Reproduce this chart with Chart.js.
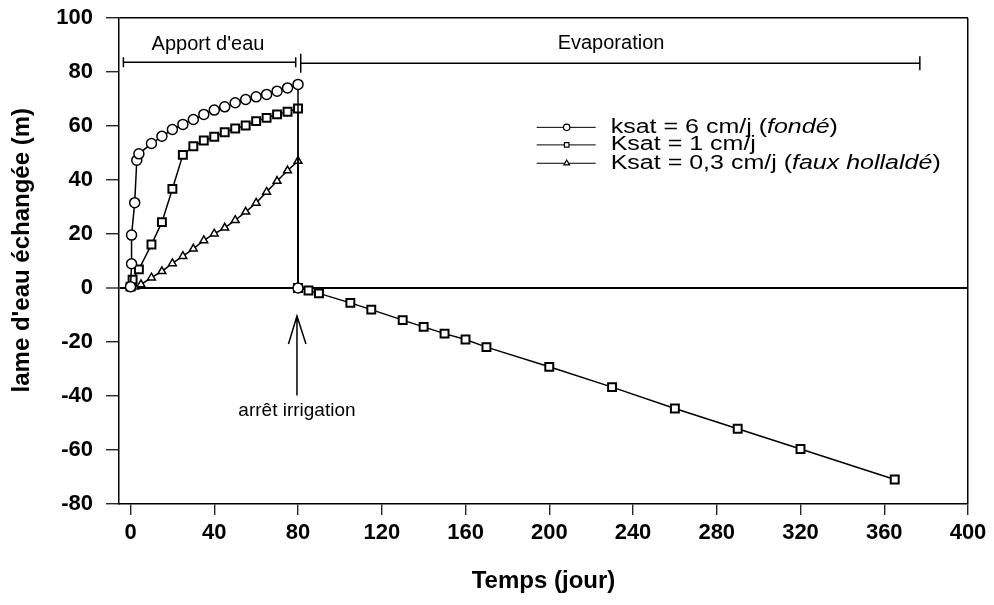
<!DOCTYPE html>
<html>
<head>
<meta charset="utf-8">
<script src="https://cdn.jsdelivr.net/npm/chart.js@4.4.1/dist/chart.umd.min.js"></script>
<style>
  html, body { margin: 0; padding: 0; background: #fff; }
</style>
</head>
<body>
<canvas id="grafico" width="994" height="605"></canvas>
<script>
// Ksat = 6 cm/j (fondé) - phase d'apport d'eau
const joursK6 = [0, 0.5, 0.5, 2, 3, 4, 10, 15, 20, 25, 30, 35, 40, 45, 50, 55, 60, 65, 70, 75, 80, 80];
const lameK6  = [0.5, 9, 19.6, 31.6, 47.3, 49.7, 53.5, 56.2, 58.7, 60.6, 62.4, 64.3, 65.9, 67.1, 68.6, 69.8, 70.8, 71.7, 72.9, 74.1, 75.4, 0];

// Ksat = 1 cm/j
const joursK1 = [0, 1, 4, 10, 15, 20, 25, 30, 35, 40, 45, 50, 55, 60, 65, 70, 75, 80];
const lameK1  = [0.5, 3.1, 6.9, 16.1, 24.4, 36.7, 49.3, 52.5, 54.6, 56, 57.7, 59.1, 60.2, 61.8, 63, 64.3, 65.3, 66.5];

// Ksat = 0,3 cm/j (faux hollaldé)
const joursK03 = [0, 2, 5, 10, 15, 20, 25, 30, 35, 40, 45, 50, 55, 60, 65, 70, 75, 80, 80];
const lameK03  = [0, 0.5, 1.3, 3.8, 6.2, 9.1, 11.8, 14.5, 17.6, 20.1, 22.3, 25.1, 28.2, 31.5, 35.6, 39.6, 43.5, 47, 0];

// évaporation après l'arrêt de l'irrigation (commune aux trois sols)
const joursEvap = [80, 85, 90, 105, 115, 130, 140, 150, 160, 170, 200, 230, 260, 290, 320, 365];
const lameEvap  = [0, -0.9, -2, -5.5, -8, -11.9, -14.4, -16.9, -19.1, -21.9, -29.2, -36.7, -44.6, -52.1, -59.6, -70.9];

const ticksTemps = [0, 40, 80, 120, 160, 200, 240, 280, 320, 360, 400];
const ticksLame = [-80, -60, -40, -20, 0, 20, 40, 60, 80, 100];

const legendes = ['ksat = 6 cm/j (fondé)', 'Ksat = 1 cm/j', 'Ksat = 0,3 cm/j (faux hollaldé)'];
const titreY = "lame d'eau échangée (m)";

const POLICE = '"Liberation Sans", Arial, Helvetica, sans-serif';

function points(xs, ys) {
  return xs.map((x, i) => ({ x: x, y: ys[i] }));
}

// texte élargi horizontalement, les parties entre parenthèses en italique
function texteLarge(ctx, txt, x, y, taille, sx) {
  const morceaux = [];
  const m = txt.match(/^(.*\()(.*)(\))$/);
  if (m) morceaux.push([m[1], false], [m[2], true], [m[3], false]);
  else morceaux.push([txt, false]);
  ctx.save();
  ctx.translate(x, y);
  ctx.scale(sx, 1);
  ctx.textBaseline = 'middle';
  ctx.textAlign = 'left';
  let cx = 0;
  morceaux.forEach(([t, ital]) => {
    ctx.font = (ital ? 'italic ' : '') + taille + 'px ' + POLICE;
    ctx.fillText(t, cx, 0);
    cx += ctx.measureText(t).width;
  });
  ctx.restore();
}

const annotations = {
  id: 'annotations',
  afterDatasetsDraw(chart) {
    const { ctx, scales: { x, y } } = chart;
    ctx.save();
    ctx.strokeStyle = '#000';
    ctx.fillStyle = '#000';
    ctx.lineWidth = 1.5;

    // titre de l'axe vertical
    ctx.save();
    ctx.translate(22, y.getPixelForValue(14));
    ctx.rotate(-Math.PI / 2);
    ctx.font = 'bold 24px ' + POLICE;
    ctx.textAlign = 'center';
    ctx.textBaseline = 'middle';
    ctx.fillText(titreY, 0, 0);
    ctx.restore();

    // accolades des deux phases
    const crochet = (x1, x2, yv, h1, h2) => {
      const px1 = x.getPixelForValue(x1), px2 = x.getPixelForValue(x2);
      const py = y.getPixelForValue(yv);
      ctx.beginPath();
      ctx.moveTo(px1, py); ctx.lineTo(px2, py);
      ctx.moveTo(px1, py - h1); ctx.lineTo(px1, py + h1);
      ctx.moveTo(px2, py - h2); ctx.lineTo(px2, py + h2);
      ctx.stroke();
    };
    crochet(-3.4, 78.9, 83.6, 5, 5);
    crochet(81.3, 377, 83.2, 9.5, 7);

    ctx.font = '20px ' + POLICE;
    ctx.textAlign = 'center';
    ctx.textBaseline = 'middle';
    ctx.fillText("Apport d'eau", x.getPixelForValue(37), y.getPixelForValue(90.2));
    ctx.fillText('Evaporation', x.getPixelForValue(229.5), y.getPixelForValue(90.4));

    // flèche arrêt irrigation
    const ax = x.getPixelForValue(79.5);
    const pointe = y.getPixelForValue(-10.4);
    const queue = y.getPixelForValue(-39.8);
    ctx.beginPath();
    ctx.moveTo(ax, queue); ctx.lineTo(ax, pointe);
    ctx.moveTo(ax - 8.5, pointe + 28); ctx.lineTo(ax, pointe); ctx.lineTo(ax + 9, pointe + 28);
    ctx.stroke();
    ctx.font = '19px ' + POLICE;
    ctx.fillText('arrêt irrigation', ax, y.getPixelForValue(-45.3));

    // légende
    const lx = x.getPixelForValue(194);
    const rangs = [59.5, 53, 46.2];
    chart.data.datasets.forEach((ds, i) => {
      const py = y.getPixelForValue(rangs[i]);
      ctx.lineWidth = 1;
      ctx.beginPath();
      ctx.moveTo(lx, py); ctx.lineTo(lx + 59, py);
      ctx.stroke();
      ctx.fillStyle = '#fff';
      ctx.lineWidth = 1.2;
      Chart.helpers.drawPoint(ctx, { pointStyle: ds.pointStyle, radius: 3.2, rotation: 0, borderWidth: 1.2 }, lx + 30, py);
      ctx.fillStyle = '#000';
      texteLarge(ctx, legendes[i], lx + 74, py, 20, 1.25);
    });
    ctx.restore();
  }
};

const commun = {
  borderColor: '#000',
  borderWidth: 1.5,
  pointBackgroundColor: '#fff',
  pointBorderColor: '#000',
  pointBorderWidth: 1.5,
  pointHoverRadius: 5,
  tension: 0,
  fill: false
};

new Chart(document.getElementById('grafico'), {
  type: 'line',
  data: {
    datasets: [
      Object.assign({}, commun, {
        label: legendes[0],
        data: points(joursK6, lameK6),
        pointStyle: 'circle',
        pointRadius: 5
      }),
      Object.assign({}, commun, {
        label: legendes[1],
        data: points(joursK1, lameK1).concat(points(joursEvap, lameEvap)),
        pointStyle: 'rect',
        pointRadius: 5.6,
        pointBorderWidth: 2
      }),
      Object.assign({}, commun, {
        label: legendes[2],
        data: points(joursK03, lameK03),
        pointStyle: 'triangle',
        pointRadius: 4.5
      })
    ]
  },
  options: {
    responsive: false,
    animation: false,
    devicePixelRatio: 1,
    layout: { padding: { top: 18, right: 26, bottom: 0, left: 0 } },
    plugins: {
      legend: { display: false },
      tooltip: { enabled: false }
    },
    scales: {
      x: {
        type: 'linear',
        min: -5.5,
        max: 400,
        afterFit(s) { s.height = 101; s.paddingLeft = 0; s.paddingRight = 0; },
        afterBuildTicks(s) { s.ticks = ticksTemps.map(v => ({ value: v })); },
        border: { color: '#000', width: 1.5 },
        grid: {
          color: c => (c.tick && c.tick.value === 400) ? '#000' : 'rgba(0,0,0,0)',
          lineWidth: 1.5,
          tickColor: '#000',
          tickWidth: 1.2,
          tickLength: 11
        },
        ticks: {
          color: '#000',
          padding: 5,
          maxRotation: 0,
          font: { family: POLICE, size: 22, weight: 'bold' }
        },
        title: {
          display: true,
          text: 'Temps (jour)',
          color: '#000',
          padding: { top: 0, bottom: 9 },
          font: { family: POLICE, size: 24, weight: 'bold' }
        }
      },
      y: {
        type: 'linear',
        min: -80,
        max: 100,
        afterFit(s) { s.width = 119; s.paddingTop = 0; s.paddingBottom = 0; },
        afterBuildTicks(s) { s.ticks = ticksLame.map(v => ({ value: v })); },
        border: { color: '#000', width: 1.5 },
        grid: {
          color: c => (c.tick && (c.tick.value === 0 || c.tick.value === 100)) ? '#000' : 'rgba(0,0,0,0)',
          lineWidth: c => (c.tick && c.tick.value === 0) ? 2 : 1.5,
          tickColor: '#000',
          tickWidth: 1.2,
          tickLength: 13
        },
        ticks: {
          color: '#000',
          padding: 13,
          font: { family: POLICE, size: 22, weight: 'bold' }
        }
      }
    }
  },
  plugins: [annotations]
});
</script>
</body>
</html>
